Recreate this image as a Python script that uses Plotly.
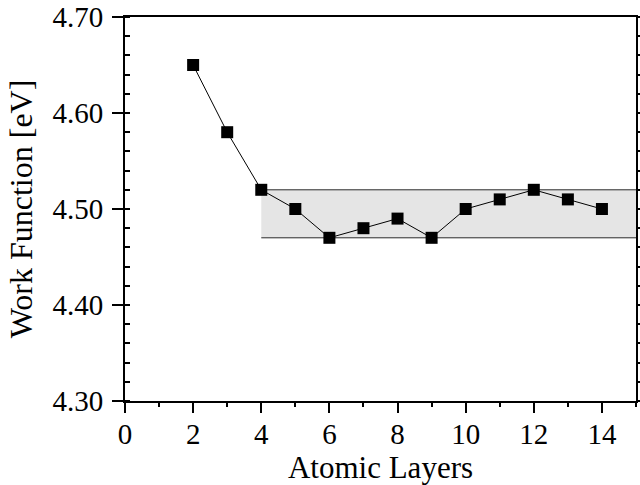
import plotly.graph_objects as go

layers = [2, 3, 4, 5, 6, 7, 8, 9, 10, 11, 12, 13, 14]
work_function = [4.65, 4.58, 4.52, 4.50, 4.47, 4.48, 4.49, 4.47, 4.50, 4.51, 4.52, 4.51, 4.50]
band_x = [4, 15]
band_low = [4.47, 4.47]
band_high = [4.52, 4.52]
x_range = [0, 15]
y_range = [4.30, 4.70]
y_ticks = [4.30, 4.40, 4.50, 4.60, 4.70]
y_tick_labels = ["4.30", "4.40", "4.50", "4.60", "4.70"]
x_ticks = [0, 2, 4, 6, 8, 10, 12, 14]

font = "'Liberation Serif', 'Times New Roman', Times, serif"

fig = go.Figure()
fig.add_trace(go.Scatter(x=band_x, y=band_low, mode="lines",
                         line=dict(color="#2a2a2a", width=1), showlegend=False, hoverinfo="skip"))
fig.add_trace(go.Scatter(x=band_x, y=band_high, mode="lines", fill="tonexty",
                         fillcolor="#e5e5e5",
                         line=dict(color="#2a2a2a", width=1), showlegend=False, hoverinfo="skip"))
fig.add_trace(go.Scatter(x=layers, y=work_function, mode="lines+markers",
                         line=dict(color="black", width=1),
                         marker=dict(symbol="square", size=12, color="black"),
                         showlegend=False))
# invisible trace for the right-side tick axis
fig.add_trace(go.Scatter(x=[None], y=[None], yaxis="y2", showlegend=False, hoverinfo="skip"))

fig.update_layout(
    width=640, height=485,
    margin=dict(l=125, r=4, t=17, b=84),
    paper_bgcolor="white", plot_bgcolor="white",
    font=dict(family=font, size=29, color="black"),
    xaxis=dict(
        range=x_range, tickvals=x_ticks, ticks="outside", ticklen=10, tickwidth=2,
        tickcolor="black", showline=True, linecolor="black", linewidth=2, mirror=True,
        showgrid=False, zeroline=False, automargin=False, ticklabelstandoff=-4,
        minor=dict(dtick=1, ticks="outside", ticklen=4, tickwidth=2, tickcolor="black", showgrid=False),
        title=dict(text="Atomic Layers", font=dict(family=font, size=31), standoff=2),
        tickfont=dict(family=font, size=29),
    ),
    yaxis=dict(
        range=y_range, tickvals=y_ticks, ticktext=y_tick_labels, ticks="outside", ticklen=11,
        tickwidth=2, tickcolor="black", showline=True, linecolor="black", linewidth=2,
        mirror=True, showgrid=False, zeroline=False, automargin=False, ticklabelstandoff=3,
        minor=dict(dtick=0.02, ticks="inside", ticklen=5, tickwidth=2, tickcolor="black", showgrid=False),
        title=dict(text="Work Function [eV]", font=dict(family=font, size=32), standoff=10),
        tickfont=dict(family=font, size=29),
    ),
    yaxis2=dict(
        range=y_range, overlaying="y", side="right", dtick=0.02, tick0=4.30,
        ticks="outside", ticklen=4, tickwidth=2, tickcolor="black", automargin=False,
        showticklabels=False, showgrid=False, zeroline=False, showline=False,
    ),
)

fig.write_html("out.html", config={"displayModeBar": False},
               post_script="document.body.style.margin='0';document.body.style.padding='0';")
